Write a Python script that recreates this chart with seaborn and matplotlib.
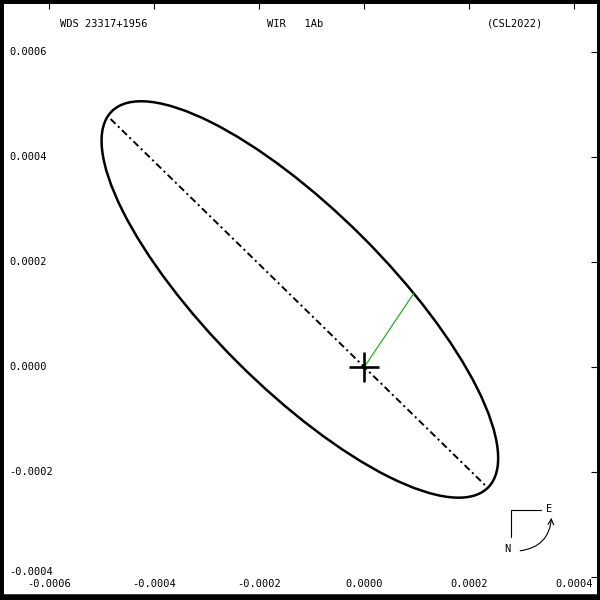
# Apparent orbit plot for WDS 23317+1956, WIR 1Ab (CSL2022)

import matplotlib.pyplot as plt
import matplotlib.transforms as mtransforms
import seaborn as sns
from matplotlib.patches import Ellipse
from matplotlib.ticker import FixedLocator, FormatStrFormatter

# apparent orbit (arcsec)
ORBIT_CENTER = (-0.000122, 0.0001295)
ORBIT_SEMI_MAJOR = 0.0005067
ORBIT_SEMI_MINOR = 0.0001686
ORBIT_ANGLE = -45.0

# line of nodes, end points on the ellipse
NODE_X = [-0.0004825, 0.0002362]
NODE_Y = [0.0004734, -0.0002296]

# primary -> periastron
PERI_X = [0.0, 0.0000958]
PERI_Y = [0.0, 0.0001425]

STAR_X = [0.0]
STAR_Y = [0.0]

X_TICKS = [-0.0006, -0.0004, -0.0002, 0.0, 0.0002, 0.0004]
Y_TICKS = [-0.0004, -0.0002, 0.0, 0.0002, 0.0004, 0.0006]
X_LIM = (-0.000693, 0.0004495)
Y_LIM = (-0.000443, 0.0007)

TITLE_LEFT = "WDS 23317+1956"
TITLE_MID = "WIR   1Ab"
TITLE_RIGHT = "(CSL2022)"

sns.set_style("white")
plt.rcParams['font.family'] = ['DejaVu Sans Mono']
plt.rcParams['text.color'] = 'black'
plt.rcParams['lines.scale_dashes'] = False

fig = plt.figure(figsize=(6, 6), dpi=100)
ax = fig.add_axes([0, 0, 1, 1])

ax.add_patch(Ellipse(ORBIT_CENTER, 2 * ORBIT_SEMI_MAJOR, 2 * ORBIT_SEMI_MINOR,
                     angle=ORBIT_ANGLE, fill=False, edgecolor="black", linewidth=1.8))

sns.lineplot(x=NODE_X, y=NODE_Y, sort=False, color="black", linewidth=1.4,
             linestyle=(0, (5, 2.5, 1.5, 2.5)), ax=ax)
sns.lineplot(x=PERI_X, y=PERI_Y, sort=False, color="#00b400", linewidth=0.8, ax=ax)
sns.scatterplot(x=STAR_X, y=STAR_Y, marker="+", s=470, color="black",
                linewidth=1.9, ax=ax, zorder=5)

ax.set_xlim(*X_LIM)
ax.set_ylim(*Y_LIM)
ax.xaxis.set_major_locator(FixedLocator(X_TICKS))
ax.yaxis.set_major_locator(FixedLocator(Y_TICKS))
ax.xaxis.set_major_formatter(FormatStrFormatter("%.4f"))
ax.yaxis.set_major_formatter(FormatStrFormatter("%.4f"))

ax.tick_params(axis="both", direction="in", length=6.5, width=0.8, color="black",
               top=True, right=True, labelsize=7.5, labelcolor="black")
ax.tick_params(axis="x", pad=-11.5)
ax.tick_params(axis="y", pad=-6.5)
for lab in ax.get_xticklabels():
    lab.set_verticalalignment("center")
ylabels = ax.get_yticklabels()
for lab in ylabels:
    lab.set_horizontalalignment("left")
    lab.set_verticalalignment("center")
# lowest y label sits right on top of the first x label, lift it a little
ylabels[0].set_transform(ylabels[0].get_transform()
                         + mtransforms.ScaledTranslation(0, 4 / 72, fig.dpi_scale_trans))

for side in ["top", "left", "right"]:
    ax.spines[side].set_linewidth(5)
ax.spines["bottom"].set_linewidth(9)
for sp in ax.spines.values():
    sp.set_color("black")
    sp.set_visible(True)

# header
ax.text(0.100, 0.960, TITLE_LEFT, transform=ax.transAxes, fontsize=7.5, va="center")
ax.text(0.445, 0.960, TITLE_MID, transform=ax.transAxes, fontsize=7.5, va="center")
ax.text(0.812, 0.960, TITLE_RIGHT, transform=ax.transAxes, fontsize=7.5, va="center")

# compass
ax.plot([0.852, 0.902], [0.150, 0.150], color="black", linewidth=0.8, transform=ax.transAxes)
ax.plot([0.852, 0.852], [0.150, 0.105], color="black", linewidth=0.8, transform=ax.transAxes)
ax.text(0.915, 0.152, "E", transform=ax.transAxes, fontsize=7.5, ha="center", va="center")
ax.text(0.845, 0.085, "N", transform=ax.transAxes, fontsize=7.5, ha="center", va="center")
ax.annotate("", xy=(0.919, 0.137), xytext=(0.867, 0.082),
            xycoords="axes fraction", textcoords="axes fraction",
            arrowprops=dict(arrowstyle="->", connectionstyle="arc3,rad=0.4",
                            color="black", linewidth=0.8, shrinkA=0, shrinkB=0))

fig.savefig("out.png", dpi=100)
